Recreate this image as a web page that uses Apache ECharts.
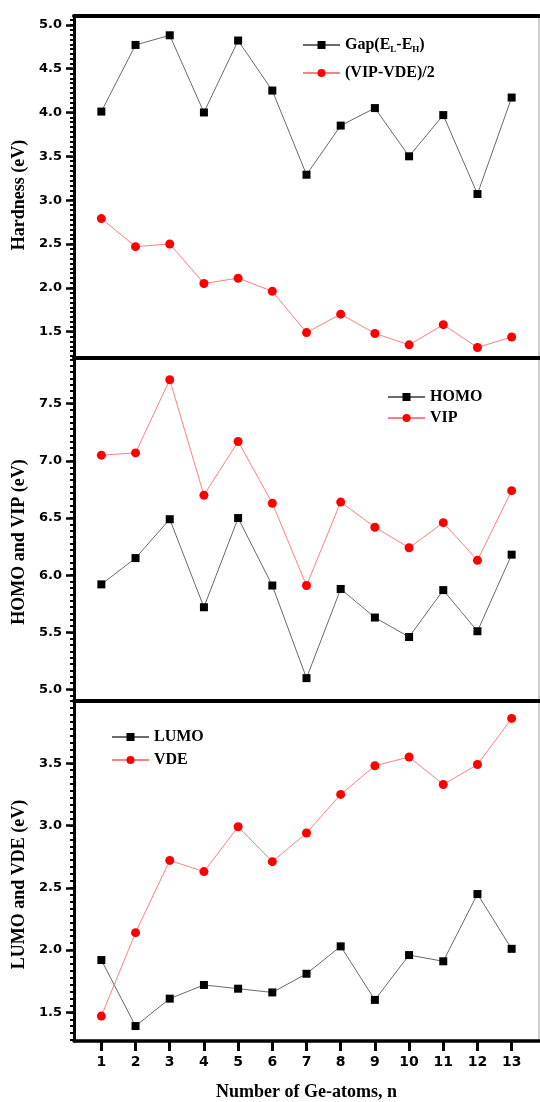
<!DOCTYPE html>
<html>
<head>
<meta charset="utf-8">
<script src="https://cdn.jsdelivr.net/npm/echarts@6/dist/echarts.min.js"></script>
<style>
  html, body { margin: 0; padding: 0; background: #fff; }
  #chart { width: 540px; height: 1102px; }
</style>
</head>
<body>
<div id="chart"></div>
<script>
// Cluster size n (number of Ge atoms)
const nAtoms = [1, 2, 3, 4, 5, 6, 7, 8, 9, 10, 11, 12, 13];

// Panel 1: hardness (eV)
const gap      = [4.01, 4.77, 4.88, 4.00, 4.82, 4.25, 3.29, 3.85, 4.05, 3.50, 3.97, 3.07, 4.17];
const halfDiff = [2.79, 2.47, 2.50, 2.05, 2.11, 1.96, 1.49, 1.70, 1.48, 1.35, 1.58, 1.32, 1.44];

// Panel 2: HOMO and VIP (eV)
const homo = [5.92, 6.15, 6.49, 5.72, 6.50, 5.91, 5.10, 5.88, 5.63, 5.46, 5.87, 5.51, 6.18];
const vip  = [7.05, 7.07, 7.71, 6.70, 7.17, 6.63, 5.91, 6.64, 6.42, 6.24, 6.46, 6.13, 6.74];

// Panel 3: LUMO and VDE (eV)
const lumo = [1.92, 1.39, 1.61, 1.72, 1.69, 1.66, 1.81, 2.03, 1.60, 1.96, 1.91, 2.45, 2.01];
const vde  = [1.47, 2.14, 2.72, 2.63, 2.99, 2.71, 2.94, 3.25, 3.48, 3.55, 3.33, 3.49, 3.86];

// Labelled y ticks for each panel
const ticksHardness = [1.5, 2.0, 2.5, 3.0, 3.5, 4.0, 4.5, 5.0];
const ticksHomoVip  = [5.0, 5.5, 6.0, 6.5, 7.0, 7.5];
const ticksLumoVde  = [1.5, 2.0, 2.5, 3.0, 3.5];

const SERIF = 'Liberation Serif';
const SANS = 'DejaVu Sans';

const chart = echarts.init(document.getElementById('chart'), null, { renderer: 'canvas' });

const grids = [
  { left: 74, right: 1, top: 16,  height: 342 },
  { left: 74, right: 1, top: 358, height: 343 },
  { left: 74, right: 1, top: 701, height: 341 }
].map(g => Object.assign({ show: true, borderColor: '#999', borderWidth: 1, backgroundColor: 'transparent' }, g));

const yRanges = [
  { min: 1.2,  max: 5.1, ticks: ticksHardness, name: 'Hardness (eV)', pad: 16 },
  { min: 4.9,  max: 7.9, ticks: ticksHomoVip,  name: 'HOMO and VIP (eV)', pad: 25 },
  { min: 1.27, max: 4.0, ticks: ticksLumoVde,  name: 'LUMO and VDE (eV)', pad: 27 }
];

// Fine tick positions between the labelled ones (nine steps per 0.5)
function minorTicks(min, max) {
  const out = [];
  const step = 0.5 / 9;
  const start = Math.floor(min / 0.5) * 0.5;
  for (let v = start; v <= max + 1e-9; v += step) {
    if (v >= min - 1e-9) out.push(+v.toFixed(4));
  }
  return out;
}

const yAxes = [];
yRanges.forEach((r, gi) => {
  yAxes.push({
    type: 'value', gridIndex: gi, min: r.min, max: r.max, position: 'left',
    splitLine: { show: false },
    axisLine: { show: true, lineStyle: { color: '#000', width: 3 } },
    axisTick: { show: true, inside: false, length: 8, lineStyle: { color: '#000', width: 2.5 }, customValues: r.ticks },
    axisLabel: {
      show: true, margin: 12, customValues: r.ticks,
      formatter: v => v.toFixed(1),
      fontFamily: SANS, fontWeight: 'bold', fontSize: 13, color: '#000'
    },
    name: r.name, nameLocation: 'middle', nameGap: 46,
    nameTextStyle: {
      fontFamily: SERIF, fontWeight: 'bold', fontSize: 18, color: '#000',
      padding: [0, r.pad, 0, 0]
    }
  });
  yAxes.push({
    type: 'value', gridIndex: gi, min: r.min, max: r.max, position: 'left',
    splitLine: { show: false },
    axisLine: { show: false },
    axisTick: { show: true, inside: false, length: 4, lineStyle: { color: '#000', width: 2 }, customValues: minorTicks(r.min, r.max) },
    axisLabel: { show: false }
  });
});

const xBase = { type: 'value', min: 0.2, max: 13.8, splitLine: { show: false } };
const xAxes = [
  Object.assign({}, xBase, {
    gridIndex: 0, position: 'bottom',
    axisLine: { show: true, lineStyle: { color: '#000', width: 4 } },
    axisTick: { show: false }, axisLabel: { show: false }
  }),
  Object.assign({}, xBase, {
    gridIndex: 1, position: 'bottom',
    axisLine: { show: true, lineStyle: { color: '#000', width: 4 } },
    axisTick: { show: false }, axisLabel: { show: false }
  }),
  Object.assign({}, xBase, {
    gridIndex: 2, position: 'bottom',
    axisLine: { show: true, lineStyle: { color: '#000', width: 3.5 } },
    axisTick: { show: true, length: 10, lineStyle: { color: '#000', width: 3 }, customValues: nAtoms },
    axisLabel: {
      show: true, margin: 14, customValues: nAtoms,
      formatter: v => String(v),
      fontFamily: SANS, fontWeight: 'bold', fontSize: 14, color: '#000'
    },
    name: 'Number of Ge-atoms, n', nameLocation: 'middle', nameGap: 42,
    nameTextStyle: { fontFamily: SERIF, fontWeight: 'bold', fontSize: 18, color: '#000', verticalAlign: 'top' }
  }),
  // heavy frame line along the top of the first panel
  Object.assign({}, xBase, {
    gridIndex: 0, position: 'top',
    axisLine: { show: true, lineStyle: { color: '#000', width: 4 } },
    axisTick: { show: false }, axisLabel: { show: false }
  })
];

function blackSeries(name, values, xi, yi) {
  return {
    name, type: 'line', xAxisIndex: xi, yAxisIndex: yi,
    data: nAtoms.map((n, i) => [n, values[i]]),
    symbol: 'rect', symbolSize: 8,
    itemStyle: { color: '#000' },
    lineStyle: { color: '#6a6a6a', width: 1 },
    emphasis: { disabled: true }, animation: false, z: 3
  };
}
function redSeries(name, values, xi, yi) {
  return {
    name, type: 'line', xAxisIndex: xi, yAxisIndex: yi,
    data: nAtoms.map((n, i) => [n, values[i]]),
    symbol: 'circle', symbolSize: 9,
    itemStyle: { color: '#ff0000' },
    lineStyle: { color: '#ff8080', width: 1 },
    emphasis: { disabled: true }, animation: false, z: 3
  };
}

const GAP_NAME = 'Gap(EL-EH)';
const legendText = {
  fontFamily: SERIF, fontWeight: 'bold', fontSize: 16, color: '#000',
  rich: {
    s: { fontFamily: SERIF, fontWeight: 'bold', fontSize: 9, color: '#000', padding: [9, 0, 0, 0] },
    t: { fontFamily: SERIF, fontWeight: 'bold', fontSize: 16, color: '#000' }
  }
};
function legend(names, left, top, gap) {
  return {
    data: names, orient: 'vertical', left, top, padding: 0,
    itemWidth: 37, itemHeight: 10, itemGap: gap,
    selectedMode: false,
    textStyle: legendText,
    formatter: name => name === GAP_NAME ? '{t|Gap(E}{s|L}{t|-E}{s|H}{t|)}' : name
  };
}

const option = {
  backgroundColor: '#fff',
  animation: false,
  grid: grids,
  xAxis: xAxes,
  yAxis: yAxes,
  legend: [
    legend([GAP_NAME, '(VIP-VDE)/2'], 302, 37, 11),
    legend(['HOMO', 'VIP'], 387, 389, 5),
    legend(['LUMO', 'VDE'], 111, 729, 7)
  ],
  series: [
    blackSeries(GAP_NAME, gap, 0, 0),
    redSeries('(VIP-VDE)/2', halfDiff, 0, 0),
    blackSeries('HOMO', homo, 1, 2),
    redSeries('VIP', vip, 1, 2),
    blackSeries('LUMO', lumo, 2, 4),
    redSeries('VDE', vde, 2, 4)
  ]
};

chart.setOption(option);
</script>
</body>
</html>
